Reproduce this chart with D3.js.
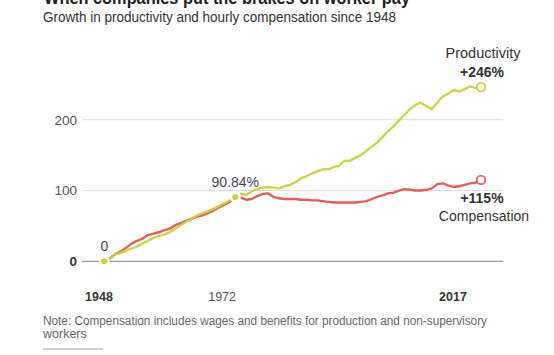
<!DOCTYPE html>
<html>
<head>
<meta charset="utf-8">
<script src="https://cdn.jsdelivr.net/npm/d3@7"></script>
<style>
  html, body { margin: 0; padding: 0; background: #fff; }
  svg { display: block; font-family: "Liberation Sans", Arial, sans-serif; }
</style>
</head>
<body>
<svg id="chart" width="554" height="355"></svg>
<script>
const years = [1948,1949,1950,1951,1952,1953,1954,1955,1956,1957,1958,1959,1960,1961,1962,1963,1964,1965,1966,1967,1968,1969,1970,1971,1972,1973,1974,1975,1976,1977,1978,1979,1980,1981,1982,1983,1984,1985,1986,1987,1988,1989,1990,1991,1992,1993,1994,1995,1996,1997,1998,1999,2000,2001,2002,2003,2004,2005,2006,2007,2008,2009,2010,2011,2012,2013,2014,2015,2016,2017];
const productivity = [0,3,10,12,15,18,21,25,29,33,36,38,41,46,51,56,60,65,68,71,74,78,82,86,90.84,95,94,99,102,104,105,104,103,106,108,112,117,120,124,127,130,130,133,135,142,142,146,150,156,162,168,176,184,191,199,207,215,221,224,219,215,224,233,237,242,240,243,247,245,246];
const compensation = [0,4,10,14,19,25,29,32,37,39,41,44,46,51,54,57,60,63,65,68,72,76,80,84,90.84,90,87,88,92,95,96,91,89,88,88,88,87,87,86,86,85,84,83,83,83,83,83,84,85,88,91,93,96,97,100,102,101,100,100,101,103,109,110,107,105,106,108,110,111,115];
const yTicks = [0, 100, 200];
const xTickYears = [1948, 1972, 2017];
const xTickBold = [true, false, true];
const markYears = [1948, 1972];
const markLabels = ["0", "90.84%"];
const endLabels = { productivity: ["Productivity", "+246%"], compensation: ["+115%", "Compensation"] };
const titleText = "When companies put the brakes on worker pay";
const subtitleText = "Growth in productivity and hourly compensation since 1948";
const noteLines = ["Note: Compensation includes wages and benefits for production and non-supervisory", "workers"];

const prodColor = "#c9cf3d";
const compColor = "#e25f5b";

const svg = d3.select("#chart");

const x = d3.scaleLinear().domain([1948, 2017]).range([104.3, 481]);
const xLabel = d3.scaleLinear().domain([1948, 2017]).range([99, 453]);
const y = d3.scaleLinear().domain([0, 200]).range([261.3, 119.7]);

// title (cut off at top) and subtitle
svg.append("text").attr("x", 44).attr("y", 4)
  .attr("font-size", 19).attr("font-weight", "bold").attr("fill", "#222")
  .attr("textLength", 366).attr("lengthAdjust", "spacingAndGlyphs")
  .text(titleText);
svg.append("text").attr("x", 43).attr("y", 22)
  .attr("font-size", 14).attr("fill", "#333")
  .attr("textLength", 353).attr("lengthAdjust", "spacingAndGlyphs")
  .text(subtitleText);

// gridlines
const grid = svg.append("g");
yTicks.forEach(t => {
  grid.append("line")
    .attr("x1", 82).attr("x2", 503)
    .attr("y1", y(t)).attr("y2", y(t))
    .attr("stroke", t === 0 ? "#9a9a9a" : "#dedede")
    .attr("stroke-width", t === 0 ? 1.2 : 1);
  grid.append("text")
    .attr("x", 77).attr("y", y(t)).attr("dy", "0.36em")
    .attr("text-anchor", "end")
    .attr("font-size", 13.5)
    .attr("font-weight", t === 0 ? "bold" : "normal")
    .attr("fill", t === 0 ? "#333" : "#555")
    .text(t);
});

// x tick labels
xTickYears.forEach((yr, i) => {
  svg.append("text")
    .attr("x", xLabel(yr)).attr("y", 301)
    .attr("text-anchor", "middle")
    .attr("font-size", 12.5)
    .attr("font-weight", xTickBold[i] ? "bold" : "normal")
    .attr("fill", xTickBold[i] ? "#333" : "#555")
    .text(yr);
});

// lines
const line = d3.line().x(d => x(d[0])).y(d => y(d[1]));
const compData = years.map((yr, i) => [yr, compensation[i]]);
const prodData = years.map((yr, i) => [yr, productivity[i]]);

svg.append("path").datum(compData).attr("d", line)
  .attr("fill", "none").attr("stroke", compColor).attr("stroke-width", 2.4)
  .attr("stroke-linejoin", "round").attr("stroke-linecap", "round");
svg.append("path").datum(prodData).attr("d", line)
  .attr("fill", "none").attr("stroke", prodColor).attr("stroke-width", 2.4)
  .attr("stroke-opacity", 0.92)
  .attr("stroke-linejoin", "round").attr("stroke-linecap", "round");

// marker dots at 1948 and 1972
markYears.forEach((yr, i) => {
  const idx = years.indexOf(yr);
  svg.append("circle")
    .attr("cx", x(yr)).attr("cy", y(productivity[idx])).attr("r", 4.3)
    .attr("fill", prodColor).attr("stroke", "#fff").attr("stroke-width", 2.5);
  svg.append("text")
    .attr("x", x(yr)).attr("y", y(productivity[idx]) - 10)
    .attr("text-anchor", "middle")
    .attr("font-size", 14).attr("fill", "#454555")
    .text(markLabels[i]);
});

// end circles
const last = years.length - 1;
svg.append("circle")
  .attr("cx", x(years[last])).attr("cy", y(productivity[last])).attr("r", 4.3)
  .attr("fill", "#fff").attr("stroke", prodColor).attr("stroke-width", 1.8);
svg.append("circle")
  .attr("cx", x(years[last])).attr("cy", y(compensation[last])).attr("r", 4.3)
  .attr("fill", "#fff").attr("stroke", compColor).attr("stroke-width", 1.8);

// end labels
const ex = x(years[last]) + 1;
const py = y(productivity[last]);
svg.append("text").attr("x", ex + 1).attr("y", py - 29)
  .attr("text-anchor", "middle").attr("font-size", 14.5).attr("fill", "#333")
  .text(endLabels.productivity[0]);
svg.append("text").attr("x", ex).attr("y", py - 10)
  .attr("text-anchor", "middle").attr("font-size", 14).attr("font-weight", "bold").attr("fill", "#333")
  .text(endLabels.productivity[1]);
const cy = y(compensation[last]);
svg.append("text").attr("x", ex).attr("y", cy + 23)
  .attr("text-anchor", "middle").attr("font-size", 14).attr("font-weight", "bold").attr("fill", "#333")
  .text(endLabels.compensation[0]);
svg.append("text").attr("x", ex + 2).attr("y", cy + 41)
  .attr("text-anchor", "middle").attr("font-size", 14).attr("fill", "#333")
  .text(endLabels.compensation[1]);

// note
svg.append("text").attr("x", 43).attr("y", 325)
  .attr("font-size", 12.5).attr("fill", "#666")
  .attr("textLength", 444).attr("lengthAdjust", "spacingAndGlyphs")
  .text(noteLines[0]);
svg.append("text").attr("x", 43).attr("y", 338)
  .attr("font-size", 12.5).attr("fill", "#666")
  .text(noteLines[1]);

svg.append("line").attr("x1", 43).attr("x2", 103).attr("y1", 349).attr("y2", 349)
  .attr("stroke", "#cfcfcf").attr("stroke-width", 2);
</script>
</body>
</html>
